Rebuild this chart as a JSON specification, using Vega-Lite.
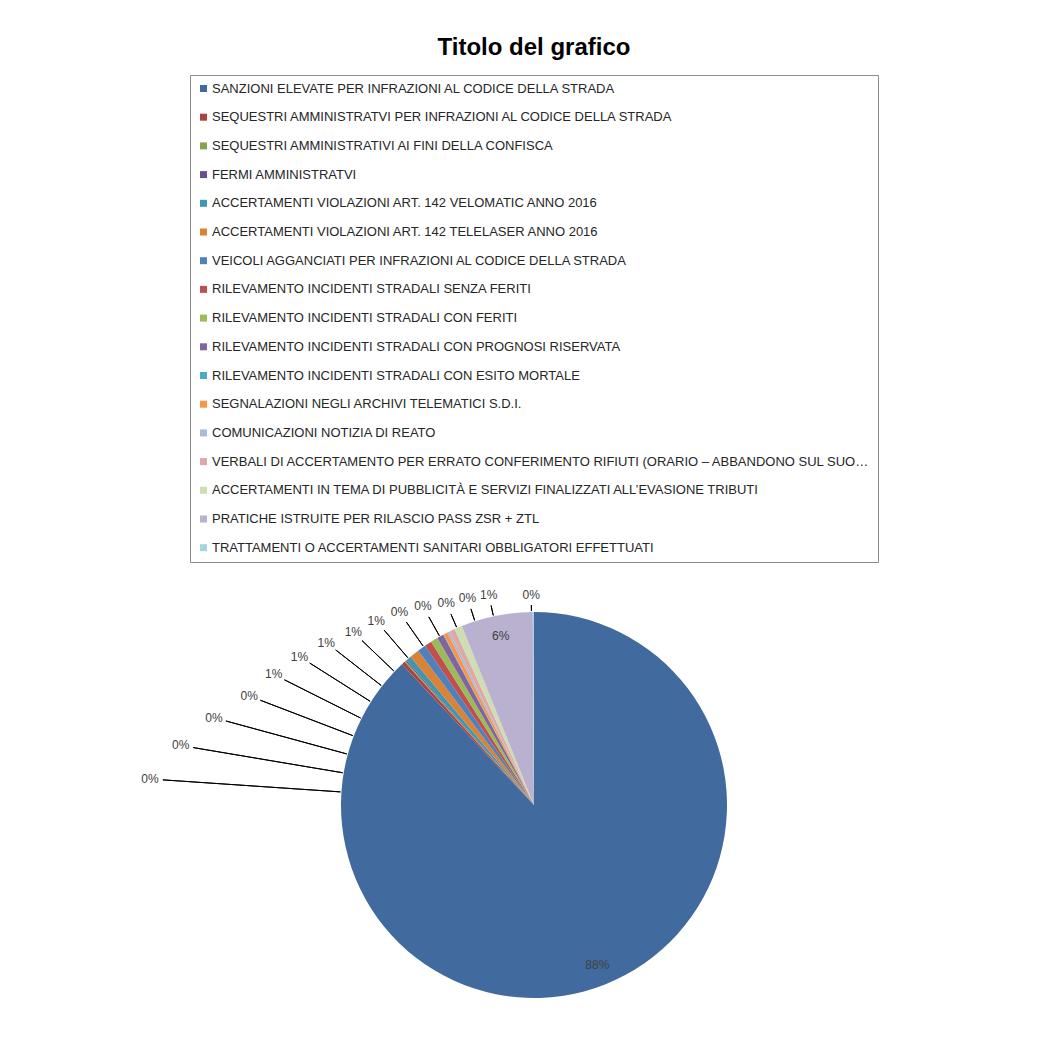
{
  "$schema": "https://vega.github.io/schema/vega-lite/v6.json",
  "width": 386,
  "height": 386,
  "autosize": {"type": "none"},
  "padding": {"left": 341, "top": 612, "right": 329, "bottom": 52},
  "background": "#ffffff",
  "title": {
    "text": "Titolo del grafico",
    "font": "Liberation Sans",
    "fontSize": 24,
    "fontWeight": "bold",
    "color": "#000000",
    "anchor": "middle",
    "offset": 15
  },
  "data": {
    "values": [
      {"n": 1, "cat": "SANZIONI ELEVATE PER INFRAZIONI AL CODICE DELLA STRADA", "value": 0.880},
      {"n": 2, "cat": "SEQUESTRI AMMINISTRATVI PER INFRAZIONI AL CODICE DELLA STRADA", "value": 0.003},
      {"n": 3, "cat": "SEQUESTRI AMMINISTRATIVI AI FINI DELLA CONFISCA", "value": 0.001},
      {"n": 4, "cat": "FERMI AMMINISTRATVI", "value": 0.001},
      {"n": 5, "cat": "ACCERTAMENTI VIOLAZIONI  ART. 142  VELOMATIC   ANNO 2016", "value": 0.0045},
      {"n": 6, "cat": "ACCERTAMENTI VIOLAZIONI  ART. 142  TELELASER    ANNO 2016", "value": 0.008},
      {"n": 7, "cat": "VEICOLI AGGANCIATI PER INFRAZIONI AL CODICE DELLA STRADA", "value": 0.007},
      {"n": 8, "cat": "RILEVAMENTO INCIDENTI STRADALI SENZA FERITI", "value": 0.006},
      {"n": 9, "cat": "RILEVAMENTO INCIDENTI STRADALI CON FERITI", "value": 0.006},
      {"n": 10, "cat": "RILEVAMENTO INCIDENTI STRADALI CON PROGNOSI RISERVATA", "value": 0.0055},
      {"n": 11, "cat": "RILEVAMENTO INCIDENTI STRADALI CON ESITO MORTALE", "value": 0.0005},
      {"n": 12, "cat": "SEGNALAZIONI NEGLI ARCHIVI TELEMATICI S.D.I.", "value": 0.0035},
      {"n": 13, "cat": "COMUNICAZIONI NOTIZIA DI REATO", "value": 0.002},
      {"n": 14, "cat": "VERBALI DI ACCERTAMENTO PER ERRATO CONFERIMENTO RIFIUTI (ORARIO – ABBANDONO SUL SUOLO)", "value": 0.0045},
      {"n": 15, "cat": "ACCERTAMENTI  IN TEMA DI PUBBLICITÀ E SERVIZI FINALIZZATI ALL’EVASIONE TRIBUTI", "value": 0.0065},
      {"n": 16, "cat": "PRATICHE ISTRUITE PER RILASCIO PASS ZSR + ZTL", "value": 0.060},
      {"n": 17, "cat": "TRATTAMENTI O ACCERTAMENTI SANITARI OBBLIGATORI EFFETTUATI", "value": 0.001}
    ]
  },
  "resolve": {"scale": {"theta": "independent", "radius": "independent"}},
  "layer": [
    {
      "mark": {"type": "arc", "outerRadius": 193},
      "encoding": {
        "theta": {"field": "value", "type": "quantitative", "stack": true},
        "order": {"field": "n", "type": "quantitative"},
        "color": {
          "field": "cat",
          "type": "nominal",
          "sort": {"field": "n"},
          "scale": {
            "range": ["#416A9F", "#AA4440", "#86A54B", "#6B4F8F", "#3E97AF", "#DB8236", "#4F81BD", "#C0504D", "#9BBB59", "#8064A2", "#4BACC6", "#F79646", "#A9B9D8", "#DDA9A7", "#CFDDB3", "#BAB0CF", "#A7D3E0"]
          },
          "legend": {
            "title": null,
            "orient": "none",
            "legendX": -151,
            "legendY": -537,
            "direction": "vertical",
            "symbolType": "square",
            "symbolSize": 49,
            "symbolStrokeWidth": 0,
            "labelFont": "Liberation Sans",
            "labelFontSize": 13,
            "labelColor": "#262626",
            "labelLimit": 659,
            "labelOffset": 2,
            "rowPadding": 14.7,
            "padding": 7,
            "strokeColor": "#8c8c8c",
            "fillColor": "#ffffff"
          }
        }
      }
    },
    {
      "transform": [{"filter": "datum.value < 0.05"}],
      "mark": {"type": "arc", "stroke": "#000000", "strokeWidth": 1, "fill": null},
      "encoding": {
        "theta": {"field": "n", "type": "quantitative", "stack": null, "scale": {"domain": [2, 17], "range": [4.78, 6.27]}},
        "theta2": {"field": "n"},
        "radius": {"field": "n", "type": "quantitative", "scale": {"domain": [2, 5, 9, 13, 17], "range": [372, 293, 238, 208, 200], "zero": false}},
        "radius2": {"value": 194}
      }
    },
    {
      "mark": {"type": "text", "radius": 172, "font": "Liberation Sans", "fontSize": 12, "color": "#404040"},
      "encoding": {
        "theta": {"field": "value", "type": "quantitative", "stack": true},
        "order": {"field": "n", "type": "quantitative"},
        "detail": {"field": "cat", "type": "nominal"},
        "text": {"field": "value", "type": "quantitative", "format": ".0%"},
        "opacity": {"condition": {"test": "datum.value >= 0.05", "value": 1}, "value": 0}
      }
    },
    {
      "transform": [{"filter": "datum.value < 0.05"}],
      "mark": {"type": "text", "font": "Liberation Sans", "fontSize": 12, "color": "#404040"},
      "encoding": {
        "theta": {"field": "n", "type": "quantitative", "stack": null, "scale": {"domain": [2, 17], "range": [4.78, 6.27]}},
        "radius": {"field": "n", "type": "quantitative", "scale": {"domain": [2, 5, 9, 13, 17], "range": [385, 305, 250, 220, 210], "zero": false}},
        "text": {"field": "value", "type": "quantitative", "format": ".0%"}
      }
    }
  ],
  "config": {"view": {"stroke": null}}
}
